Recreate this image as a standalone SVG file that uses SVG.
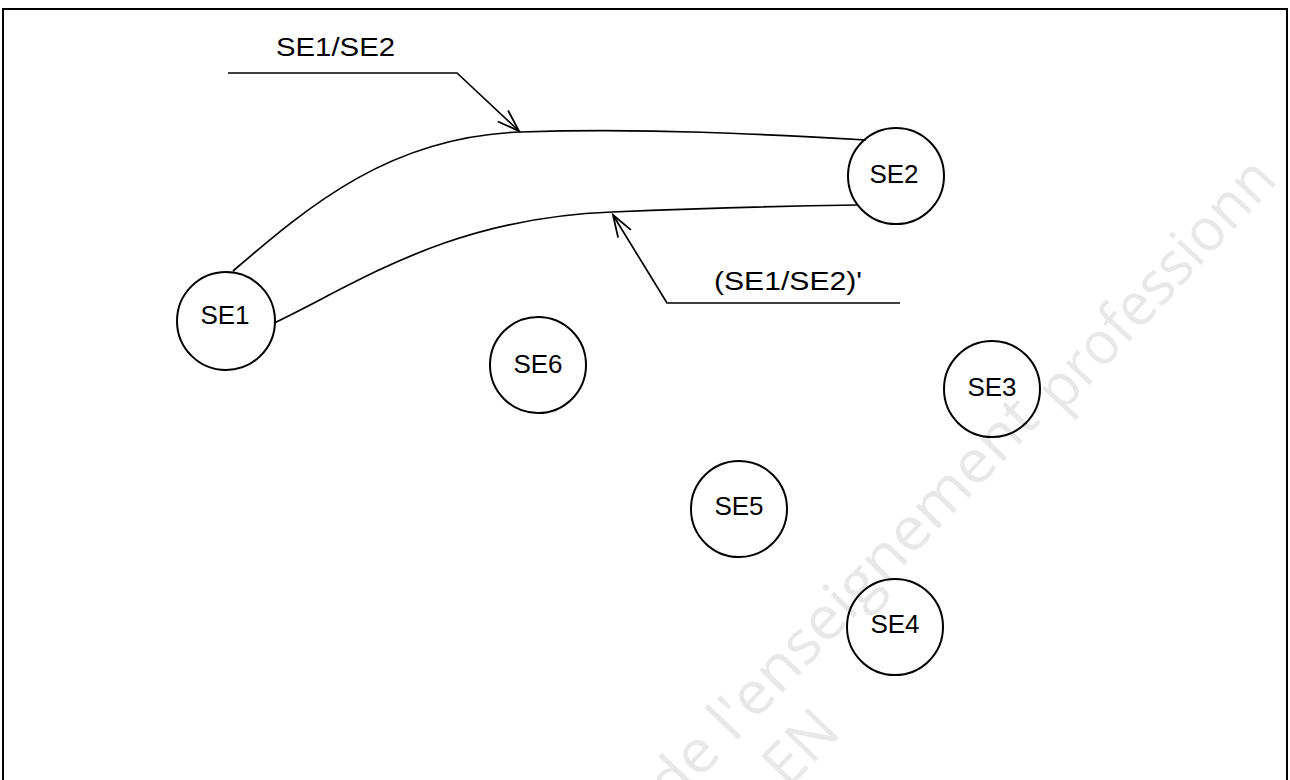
<svg xmlns="http://www.w3.org/2000/svg" width="1290" height="780" viewBox="0 0 1290 780">
  <defs>
    <style>
      .node circle { fill: none; stroke: #000; stroke-width: 2; }
      .node text, .lbl { font-family: "Liberation Sans", Arial, sans-serif; font-size: 26px; fill: #000; }
      .node text { text-anchor: middle; }
      .conn path, .conn polyline { fill: none; stroke: #000; stroke-width: 1.7; }
      .wm { font-family: "Open Sans", "DejaVu Sans", sans-serif; font-size: 60px; fill: #e8e8e8; }
    </style>
    <marker id="arr" markerUnits="userSpaceOnUse" markerWidth="30" markerHeight="20" viewBox="-24 -10 30 20" refX="0" refY="0" orient="auto">
      <path d="M-22,-7.5 L0,0 L-22,7.5" fill="none" stroke="#000" stroke-width="1.8"/>
    </marker>
  </defs>
  <rect width="1290" height="780" fill="#fff"/>

  <!-- watermark -->
  <g id="watermark">
    <text class="wm" transform="translate(672,808) rotate(-46.3)" textLength="535" lengthAdjust="spacingAndGlyphs">de l'enseignement</text>
    <text class="wm" transform="translate(1062,414) rotate(-47)" textLength="318" lengthAdjust="spacingAndGlyphs">professionn</text>
    <text class="wm" transform="translate(788,790) rotate(-46)">EN</text>
  </g>

  <!-- frame -->
  <rect id="frame" x="3" y="9" width="1284" height="790" fill="none" stroke="#000" stroke-width="2"/>

  <g id="connectors" class="conn">
    <path id="c-upper" d="M233,271 C310,205 390,137 520,132 C650,128 760,134 866,140"/>
    <path id="c-lower" d="M274,323 C360,282 450,218 612,212 C710,208 790,206 858,205"/>
    <polyline id="leader1" points="228,73 457,73 519,131" marker-end="url(#arr)"/>
    <polyline id="leader2" points="900,303 667,303 613,215" marker-end="url(#arr)"/>
  </g>

  <g id="labels">
    <text class="lbl" x="276" y="56" font-size="27" textLength="119" lengthAdjust="spacingAndGlyphs">SE1/SE2</text>
    <text class="lbl" x="714" y="290" font-size="27" textLength="148" lengthAdjust="spacingAndGlyphs">(SE1/SE2)'</text>
  </g>

  <g id="SE1" class="node"><circle cx="226" cy="321" r="49"/><text x="225" y="324">SE1</text></g>
  <g id="SE2" class="node"><circle cx="896" cy="176" r="48"/><text x="894" y="183">SE2</text></g>
  <g id="SE3" class="node"><circle cx="992" cy="389" r="48"/><text x="992" y="396">SE3</text></g>
  <g id="SE4" class="node"><circle cx="895" cy="627" r="48"/><text x="895" y="633">SE4</text></g>
  <g id="SE5" class="node"><circle cx="739" cy="509" r="48"/><text x="739" y="515">SE5</text></g>
  <g id="SE6" class="node"><circle cx="538" cy="365" r="48"/><text x="538" y="373">SE6</text></g>
</svg>
